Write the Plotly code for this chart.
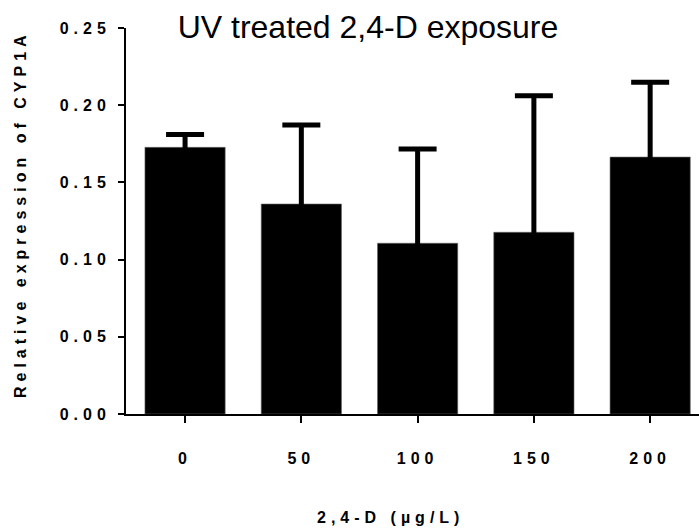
import plotly.graph_objects as go

# 2,4-D concentrations (µg/L) and CYP1A relative expression (mean, +SD)
doses = ["0", "50", "100", "150", "200"]
expression = [0.1727, 0.1360, 0.1106, 0.1177, 0.1664]
error_sd = [0.0083, 0.0511, 0.0610, 0.0884, 0.0485]
y_ticks = [0.00, 0.05, 0.10, 0.15, 0.20, 0.25]
y_tick_text = ["0.00", "0.05", "0.10", "0.15", "0.20", "0.25"]

FONT = "Liberation Sans, Arial, sans-serif"
bold_font = dict(family=FONT, size=16, color="black", weight="bold")

fig = go.Figure()
# Symmetric SD bars: the lower half falls inside the black bar, so only the upper whisker shows
fig.add_trace(go.Bar(
    x=list(range(len(doses))),
    y=expression,
    width=0.69,
    marker=dict(color="black", line=dict(color="#666666", width=0.6)),
    error_y=dict(
        type="data",
        symmetric=True,
        array=error_sd,
        color="black",
        thickness=5,
        width=19,
    ),
    showlegend=False,
))

fig.update_layout(
    width=699,
    height=531,
    margin=dict(l=126, r=0, t=28, b=117),
    paper_bgcolor="white",
    plot_bgcolor="white",
    title=dict(
        text="UV treated 2,4-D exposure",
        font=dict(family=FONT, size=32, color="black"),
        x=368 / 699,
        xanchor="center",
        xref="container",
        y=1 - 27 / 531,
        yref="container",
        yanchor="middle",
    ),
    xaxis=dict(
        range=[-0.508, 4.42],
        tickmode="array",
        tickvals=list(range(len(doses))),
        ticktext=doses,
        tickfont=bold_font,
        ticks="outside",
        ticklen=7,
        tickwidth=2,
        tickcolor="black",
        ticklabelstandoff=22,
        showline=True,
        linecolor="black",
        linewidth=2,
        showgrid=False,
        zeroline=False,
    ),
    yaxis=dict(
        range=[0, 0.25],
        tickmode="array",
        tickvals=y_ticks,
        ticktext=y_tick_text,
        tickfont=bold_font,
        ticks="outside",
        ticklen=6,
        tickwidth=2,
        tickcolor="black",
        ticklabelstandoff=4,
        showline=True,
        linecolor="black",
        linewidth=2,
        showgrid=False,
        zeroline=False,
    ),
    annotations=[
        dict(
            text="Relative expression of CYP1A",
            xref="paper", yref="paper",
            x=-0.185, y=0.518,
            xanchor="center", yanchor="middle",
            textangle=-90,
            showarrow=False,
            font=bold_font,
        ),
        dict(
            text="2,4-D (µg/L)",
            xref="paper", yref="paper",
            x=0.462, y=-0.269,
            xanchor="center", yanchor="middle",
            showarrow=False,
            font=bold_font,
        ),
    ],
)

# Wide letter spacing on axis labels and axis titles
spacing_js = (
    "var s=document.createElement('style');"
    "s.textContent='.xtick text,.ytick text,.annotation-text{letter-spacing:5px}';"
    "document.head.appendChild(s);"
)

fig.write_html("out.html", post_script=spacing_js)
